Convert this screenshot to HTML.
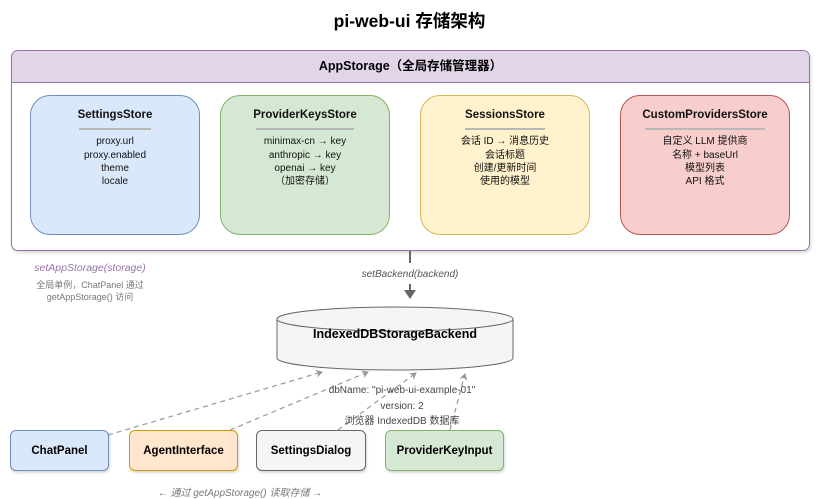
<!DOCTYPE html>
<html><head><meta charset="utf-8"><style>
body{margin:0;width:819px;height:498px;background:#fff;overflow:hidden;font-family:"Liberation Sans","Noto Sans CJK SC",sans-serif}
.a{position:absolute}
.store{position:absolute;top:95px;width:170px;height:140px;border-radius:20px;box-sizing:border-box;text-align:center;font-size:10px;line-height:13.3px;color:#111}
.store b{display:block;font-size:11.5px;margin-top:13px}
.store i{display:block;width:72px;height:2px;background:#b8b8b8;margin:6px auto 5px}
.bx{position:absolute;top:430px;height:41px;border-radius:6px;box-sizing:border-box;font-weight:bold;font-size:11.5px;display:flex;align-items:center;justify-content:center;box-shadow:1px 2px 2px rgba(0,0,0,.15)}
</style></head><body>
<div class="a" style="left:0;width:819px;top:8px;text-align:center;font-weight:bold;font-size:17.5px">pi-web-ui 存储架构</div>
<div class="a" style="left:11px;top:50px;width:799px;height:201px;border:1px solid #9673a6;border-radius:7px;box-sizing:border-box;box-shadow:1px 2px 3px rgba(0,0,0,.15);overflow:hidden">
<div style="height:31px;background:#e1d5e7;border-bottom:1px solid #9673a6;text-align:center;font-weight:bold;font-size:12.5px;line-height:31px">AppStorage（全局存储管理器）</div></div>
<div class="store" style="left:30px;background:#dae8fc;border:1px solid #6c8ebf"><b>SettingsStore</b><i></i>proxy.url<br>proxy.enabled<br>theme<br>locale</div>
<div class="store" style="left:220px;background:#d5e8d4;border:1px solid #82b366"><b>ProviderKeysStore</b><i style="width:98px"></i>minimax-cn → key<br>anthropic → key<br>openai → key<br>（加密存储）</div>
<div class="store" style="left:420px;background:#fff2cc;border:1px solid #d6b656"><b>SessionsStore</b><i style="width:80px"></i>会话 ID → 消息历史<br>会话标题<br>创建/更新时间<br>使用的模型</div>
<div class="store" style="left:620px;background:#f8cecc;border:1px solid #b85450"><b>CustomProvidersStore</b><i style="width:120px"></i>自定义 LLM 提供商<br>名称 + baseUrl<br>模型列表<br>API 格式</div>
<div class="a" style="left:0;width:180px;top:262px;text-align:center;font-style:italic;font-size:10.5px;color:#9673a6">setAppStorage(storage)</div>
<div class="a" style="left:0;width:180px;top:279px;text-align:center;font-size:9px;line-height:12px;color:#777">全局单例，ChatPanel 通过<br>getAppStorage() 访问</div>
<svg class="a" style="left:0;top:0" width="819" height="498">
<defs><marker id="m" markerWidth="8" markerHeight="8" refX="6" refY="4" orient="auto" markerUnits="userSpaceOnUse"><path d="M0,0L7,4L0,8L2,4Z" fill="#999"/></marker></defs>
<line x1="410" y1="251" x2="410" y2="263" stroke="#666" stroke-width="2"/>
<line x1="410" y1="284" x2="410" y2="292" stroke="#666" stroke-width="2"/>
<path d="M404,290L416,290L410,299Z" fill="#666"/>
<path d="M277,319 L277,358 A118,12 0 0 0 513,358 L513,319" fill="#f5f5f5" stroke="#666"/>
<ellipse cx="395" cy="319" rx="118" ry="12" fill="#f5f5f5" stroke="#666"/>
<g stroke="#999" stroke-dasharray="5,4" fill="none" stroke-width="1.2">
<line x1="108" y1="435" x2="322" y2="372" marker-end="url(#m)"/>
<line x1="230" y1="430" x2="368" y2="372" marker-end="url(#m)"/>
<line x1="338" y1="430" x2="416" y2="373" marker-end="url(#m)"/>
<line x1="450" y1="430" x2="465" y2="374" marker-end="url(#m)"/>
</g></svg>
<div class="a" style="left:310px;width:200px;top:269px;text-align:center;font-style:italic;font-size:10px;color:#555">setBackend(backend)</div>
<div class="a" style="left:277px;width:236px;top:327px;text-align:center;font-weight:bold;font-size:12.5px">IndexedDBStorageBackend</div>
<div class="a" style="left:300px;width:204px;top:383px;text-align:center;font-size:10px;line-height:15.5px;color:#444">dbName: "pi-web-ui-example-01"<br>version: 2<br>浏览器 IndexedDB 数据库</div>
<div class="bx" style="left:10px;width:99px;background:#dae8fc;border:1px solid #6c8ebf">ChatPanel</div>
<div class="bx" style="left:129px;width:109px;background:#ffe6cc;border:1px solid #d79b00">AgentInterface</div>
<div class="bx" style="left:256px;width:110px;background:#f5f5f5;border:1px solid #666">SettingsDialog</div>
<div class="bx" style="left:385px;width:119px;background:#d5e8d4;border:1px solid #82b366">ProviderKeyInput</div>
<div class="a" style="left:100px;width:280px;top:484px;text-align:center;font-style:italic;font-size:10px;color:#777">← 通过 getAppStorage() 读取存储 →</div>
</body></html>
